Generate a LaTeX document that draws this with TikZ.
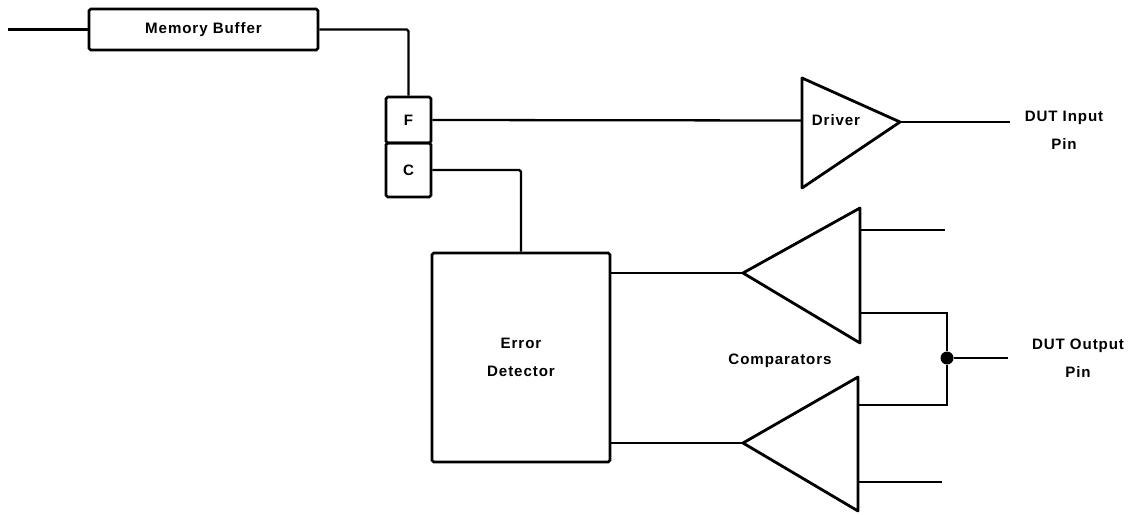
\documentclass[tikz,border=0pt]{standalone}
\usepackage{fontspec}
\setmainfont[LetterSpace=6]{Liberation Sans}
\usepackage{tikz}
\usetikzlibrary{positioning,calc}
\tikzset{
  blockbox/.style={draw=black,line width=1.5pt,rounded corners=1pt,inner sep=0pt},
  tag/.style={font=\fontsize{8.6}{12}\selectfont\bfseries,align=center,inner sep=0pt},
  wire/.style={line width=1.3pt,line join=miter},
  thinwire/.style={line width=1pt},
  amp/.style={line width=1.6pt,line join=round}
}
\begin{document}
\begin{tikzpicture}[x=0.02cm,y=-0.02cm]
  \useasboundingbox (0,0) rectangle (1146,514);

  \node[blockbox,tag,minimum width=4.58cm,minimum height=0.82cm] (membuf) at (203.5,29.5) {Memory Buffer};
  \node[blockbox,tag,minimum width=0.9cm,minimum height=0.92cm] (fbox) at (408.5,120) {F};
  \node[blockbox,tag,minimum width=0.9cm,minimum height=1.08cm] (cbox) at (408.5,170) {C};
  \node[blockbox,tag,minimum width=3.56cm,minimum height=4.18cm] (errdet) at (521,357.5) {Error\\[4pt]Detector};

  \coordinate (memin) at (8,29.5);
  \coordinate (drvtop) at (802,78);
  \coordinate (drvbot) at (802,188);
  \coordinate (drvtip) at (900,122);
  \coordinate (cmpatop) at (860,208);
  \coordinate (cmpabot) at (860,343);
  \coordinate (cmpatip) at (743,273);
  \coordinate (cmpbtop) at (858,377);
  \coordinate (cmpbbot) at (858,511);
  \coordinate (cmpbtip) at (743,443);

  \draw[amp] (drvtop)--(drvtip)--(drvbot)--cycle;
  \draw[amp] (cmpatop)--(cmpatip)--(cmpabot)--cycle;
  \draw[amp] (cmpbtop)--(cmpbtip)--(cmpbbot)--cycle;

  \node[tag] (drvtag) at (836,120) {Driver};
  \node[tag] (cmptag) at (780,361) {Comparators};
  \node[tag] (dutin) at (1064,130) {DUT Input\\[4pt]Pin};
  \node[tag] (dutout) at (1078,358) {DUT Output\\[4pt]Pin};

  \coordinate (fdrv) at (802,120.5);
  \coordinate (dutinend) at (1010,122);
  \coordinate (ahi) at (860,230);
  \coordinate (ahiend) at (945,230);
  \coordinate (aout) at (860,313);
  \coordinate (bout) at (858,405);
  \coordinate (blo) at (858,482);
  \coordinate (bloend) at (942,482);
  \coordinate (dotcorner) at (947,313);
  \coordinate (dutoutend) at (1008,358);
  \coordinate (erra) at (610,273);
  \coordinate (errb) at (610,443);

  \node[circle,fill=black,inner sep=0pt,minimum size=0.26cm] (tap) at (947,358) {};

  \draw[wire] (memin)--(membuf.west);
  \draw[wire,rounded corners=1pt] (membuf.east)-|(fbox.north);
  \draw[wire] (fbox.east)--(fdrv);
  \draw[wire,rounded corners=1pt] (cbox.east)-|(errdet.north);
  \draw[wire] (drvtip)--(dutinend);
  \draw[wire] (erra)--(cmpatip);
  \draw[wire] (errb)--(cmpbtip);
  \draw[thinwire] (ahi)--(ahiend);
  \draw[wire] (aout)-|(tap.north);
  \draw[wire] (bout)-|(tap.south);
  \draw[wire] (blo)--(bloend);
  \draw[thinwire] (tap.east)--(dutoutend);

\end{tikzpicture}
\end{document}
